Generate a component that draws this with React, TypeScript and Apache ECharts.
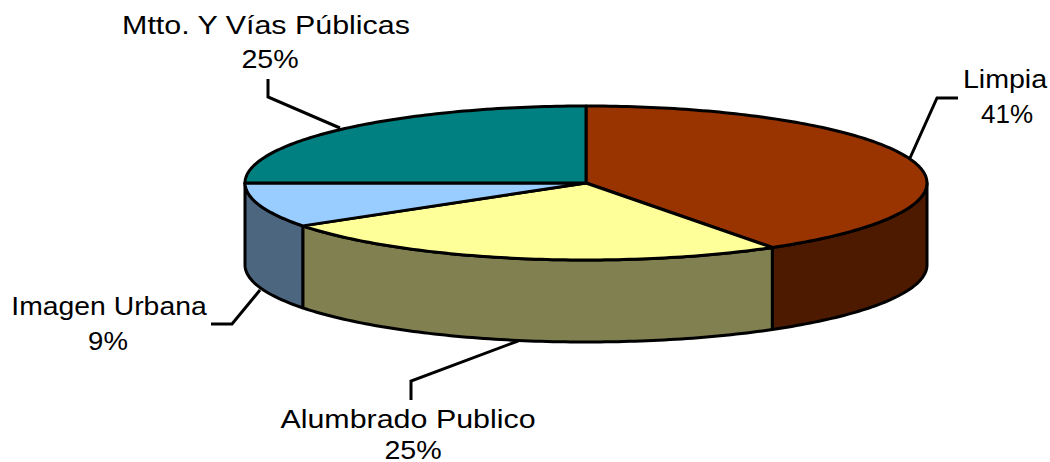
import React, { useEffect, useRef } from "react";
import * as echarts from "echarts";

const categories = ["Limpia", "Alumbrado Publico", "Imagen Urbana", "Mtto. Y Vías Públicas"];
const values = [40.8, 24.8, 9.4, 25];
const percentLabels = ["41%", "25%", "9%", "25%"];
const topColors = ["#993300", "#FFFF99", "#99CCFF", "#008080"];
const sideColors = ["#4D1A00", "#808050", "#4D6680", "#004040"];

const CX = 586;
const CY = 183;
const RX = 341;
const RY = 77;
const DEPTH = 82;
const STROKE = 3;
const FONT = '26px "Liberation Sans", Arial, sans-serif';

// label layout, per category
const nameCenterX = [1005, 408, 109, 266];
const pctCenterX = [1007, 413, 108, 270];
const labelNameY = [79, 419, 306, 25];
const labelPctY = [114, 450, 341, 59];
const nameStretch = [1.1, 1.17, 1.09, 1.17];
const pctStretch = [1.0, 1.1, 1.06, 1.1];
const leaderLines = [
  [[958, 98], [937, 98], [910, 158]],
  [[411, 400], [411, 381], [518, 341]],
  [[211, 324], [232, 324], [260, 290]],
  [[268, 79], [268, 97], [340, 128]],
];

const total = values.reduce((a, b) => a + b, 0);
const starts = values.map((_, i) => values.slice(0, i).reduce((a, b) => a + b, 0) / total);
const ends = values.map((_, i) => values.slice(0, i + 1).reduce((a, b) => a + b, 0) / total);

const pt = (f: number, dy = 0): [number, number] => [
  CX + RX * Math.sin(f * 2 * Math.PI),
  CY + dy - RY * Math.cos(f * 2 * Math.PI),
];

const arc = (a: number, b: number, dy = 0): [number, number][] => {
  const n = Math.max(2, Math.ceil(Math.abs(b - a) * 360));
  const out: [number, number][] = [];
  for (let k = 0; k <= n; k++) out.push(pt(a + ((b - a) * k) / n, dy));
  return out;
};

const toPath = (pts: [number, number][]) =>
  pts.map((p, i) => `${i ? "L" : "M"}${p[0].toFixed(2)} ${p[1].toFixed(2)}`).join(" ") + " Z";

const pathEl = (d: string, fill: string) => ({
  type: "path",
  shape: { pathData: d },
  style: { fill, stroke: "#000", lineWidth: STROKE, lineJoin: "round" },
});

export default function App() {
  const ref = useRef<HTMLDivElement>(null);
  useEffect(() => {
    if (!ref.current) return;
    const chart = echarts.init(ref.current, undefined, { renderer: "svg" });
    const data = categories.map((name, i) => ({ name, value: values[i] }));
    chart.setOption({
      animation: false,
      backgroundColor: "#fff",
      series: [
        {
          type: "custom",
          coordinateSystem: "none",
          data,
          z: 1,
          silent: true,
          renderItem: (params: any) => {
            const i = params.dataIndex;
            const a = Math.max(starts[i], 0.25);
            const b = Math.min(ends[i], 0.75);
            if (b <= a) return { type: "group", children: [] };
            const pts = [...arc(a, b), ...arc(b, a, DEPTH)];
            return pathEl(toPath(pts), sideColors[i]);
          },
        },
        {
          type: "custom",
          coordinateSystem: "none",
          data,
          z: 2,
          silent: true,
          renderItem: (params: any) => {
            const i = params.dataIndex;
            const pts: [number, number][] = [[CX, CY], ...arc(starts[i], ends[i])];
            return pathEl(toPath(pts), topColors[i]);
          },
        },
        {
          type: "custom",
          coordinateSystem: "none",
          data,
          z: 3,
          silent: true,
          renderItem: (params: any) => {
            const i = params.dataIndex;
            const textEl = (text: string, x: number, y: number, sx: number) => ({
              type: "text",
              x,
              y,
              scaleX: sx,
              style: { text, font: FONT, fill: "#000", align: "center", verticalAlign: "middle" },
            });
            return {
              type: "group",
              children: [
                {
                  type: "polyline",
                  shape: { points: leaderLines[i] },
                  style: { fill: "none", stroke: "#000", lineWidth: STROKE },
                },
                textEl(categories[i], nameCenterX[i], labelNameY[i], nameStretch[i]),
                textEl(percentLabels[i], pctCenterX[i], labelPctY[i], pctStretch[i]),
              ],
            };
          },
        },
      ],
    });
    return () => chart.dispose();
  }, []);
  return <div ref={ref} style={{ position: "fixed", left: 0, top: 0, width: 1050, height: 462 }} />;
}
